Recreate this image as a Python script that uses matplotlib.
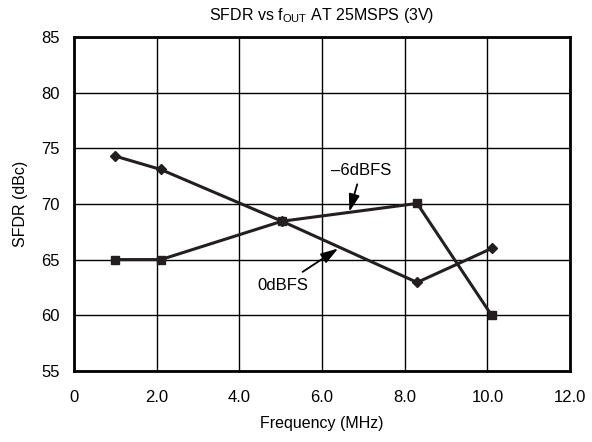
import numpy as np
import matplotlib.pyplot as plt

plt.rcParams['font.family'] = ['Liberation Sans', 'DejaVu Sans']

freq = [1.0, 2.1, 5.03, 8.3, 10.1]
sfdr_0dbfs = [74.3, 73.1, 68.45, 62.95, 66.0]
sfdr_6dbfs = [65.0, 65.0, 68.45, 70.05, 60.0]

ink = '#231f20'

fig = plt.figure(figsize=(5.92, 4.42), dpi=100)
ax = fig.add_axes([0.125, 0.161, 0.838, 0.755])

ax.plot(freq, sfdr_0dbfs, color=ink, lw=2.2, marker='D', ms=5)
ax.plot(freq, sfdr_6dbfs, color=ink, lw=2.2, marker='s', ms=6)

ax.set_xlim(0, 12)
ax.set_ylim(55, 85)
ax.set_xticks(np.arange(0, 13, 2))
ax.set_xticklabels(['0', '2.0', '4.0', '6.0', '8.0', '10.0', '12.0'])
ax.set_yticks(np.arange(55, 86, 5))
ax.grid(True, color='black', lw=1)
ax.tick_params(axis='x', length=0, labelsize=12, pad=14)
ax.tick_params(axis='y', length=0, labelsize=12, pad=10)
for s in ax.spines.values():
    s.set_linewidth(2)

ax.set_xlabel('Frequency (MHz)', fontsize=11.5, labelpad=8)
ax.set_ylabel('SFDR (dBc)', fontsize=11.5, labelpad=10)
ax.set_title('SFDR vs f$_{\\mathregular{OUT}}$ AT 25MSPS (3V)', fontsize=11.5, pad=12)

arrow = dict(arrowstyle='-|>,head_length=0.7,head_width=0.22', color='black',
             lw=1.3, shrinkB=0, mutation_scale=15)
ax.annotate('\u20136dBFS', xy=(6.66, 69.3), xytext=(6.95, 73.05),
            ha='center', va='center', fontsize=12,
            arrowprops=dict(arrow, shrinkA=3))
ax.annotate('0dBFS', xy=(6.39, 66.0), xytext=(5.04, 62.7),
            ha='center', va='center', fontsize=12,
            arrowprops=dict(arrow, shrinkA=4))

fig.savefig('out.png', dpi=100)
